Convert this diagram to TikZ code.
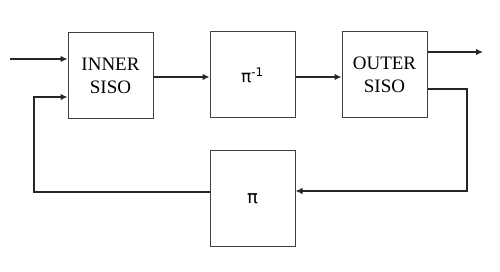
\documentclass[tikz,border=0pt]{standalone}
\usepackage{fontspec}
\setmainfont{Liberation Serif}
\newfontfamily\symfont{DejaVu Sans}
\usetikzlibrary{arrows.meta}
\begin{document}
\begin{tikzpicture}[x=1pt,y=1pt,
  blk/.style={draw=black!75, line width=1pt, minimum width=85pt, minimum height=86pt, inner sep=0pt, align=center, font=\fontsize{19}{23.5}\selectfont},
  conn/.style={line width=1.2pt, draw=black!85},
  arr/.style={conn, -{Latex[length=7pt,width=6.5pt]}}]
\useasboundingbox (0,0) rectangle (500,272);
\node[blk] (inner) at (110.5,196) {INNER\\SISO};
\node[blk] (pinv) at (252.5,197) {\symfont\fontsize{17}{20}\selectfont π\textsuperscript{-1}};
\node[blk] (outer) at (384.5,197) {OUTER\\SISO};
\node[blk, minimum height=96pt] (pi) at (252.5,73) {\symfont\fontsize{18}{20}\selectfont π};
\coordinate (in) at (10,213);
\coordinate (out) at (483,220);
\coordinate (fl1) at (34,80);
\coordinate (fl2) at (34,175);
\coordinate (fr1) at (467,183);
\coordinate (fr2) at (467,81);
\draw[arr] (in) -- (inner.west |- in);
\draw[arr] ([yshift=-1pt]inner.east) -- ([yshift=-2pt]pinv.west);
\draw[arr] ([yshift=-2pt]pinv.east) -- ([yshift=-2pt]outer.west);
\draw[arr] (outer.east |- out) -- (out);
\draw[arr] (pi.west |- fl1) -- (fl1) -- (fl2) -- (inner.west |- fl2);
\draw[arr] (outer.east |- fr1) -- (fr1) -- (fr2) -- (pi.east |- fr2);
\end{tikzpicture}
\end{document}
